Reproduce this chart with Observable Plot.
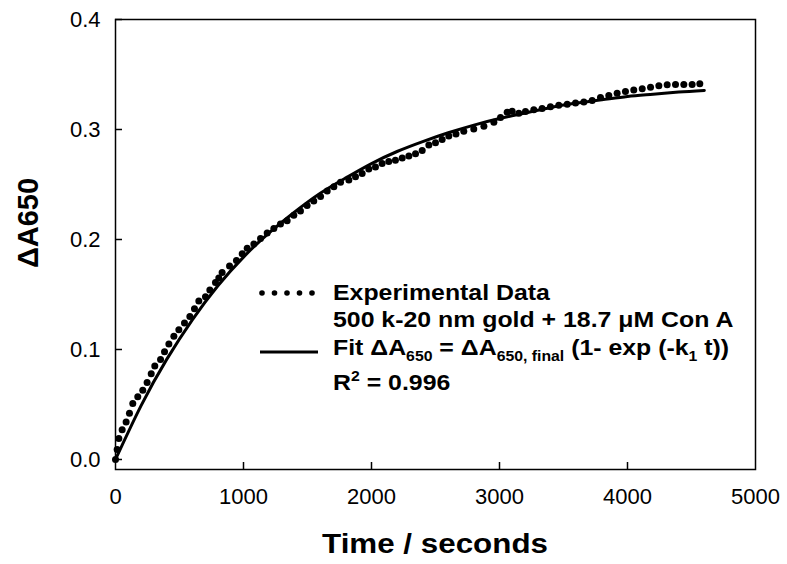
<!DOCTYPE html>
<html><head><meta charset="utf-8">
<script src="https://cdn.jsdelivr.net/npm/d3@7"></script>
<script src="https://cdn.jsdelivr.net/npm/@observablehq/plot@0.6"></script>
<style>
body{margin:0;background:#fff;}
#chart{width:787px;height:564px;}
</style></head><body><div id="chart"></div>
<script>
// Experimental data (time in s, ΔA650)
const time = [0,13,26,52,83,109,135,174,213,247,279,307,352,383,417,456,495,539,581,617,651,703,737,781,807,833,891,945,990,1029,1081,1133,1185,1237,1289,1341,1393,1445,1497,1549,1602,1654,1706,1758,1823,1875,1927,1979,2031,2083,2135,2187,2240,2292,2344,2396,2448,2500,2552,2604,2660,2721,2799,2878,2956,3008,3060,3099,3151,3203,3268,3333,3398,3463,3529,3594,3659,3724,3789,3854,3919,3984,4049,4115,4180,4245,4310,4375,4440,4505,4565];
const deltaA = [0,0.009,0.019,0.027,0.034,0.042,0.051,0.057,0.063,0.070,0.078,0.085,0.091,0.098,0.105,0.112,0.118,0.124,0.130,0.137,0.144,0.148,0.154,0.161,0.165,0.170,0.176,0.181,0.187,0.192,0.196,0.201,0.206,0.210,0.214,0.217,0.222,0.226,0.231,0.235,0.239,0.244,0.248,0.252,0.254,0.257,0.260,0.264,0.266,0.269,0.271,0.272,0.274,0.276,0.278,0.281,0.286,0.288,0.291,0.294,0.296,0.2985,0.3005,0.303,0.3067,0.311,0.3157,0.3166,0.3148,0.3164,0.318,0.319,0.3206,0.322,0.323,0.324,0.325,0.3264,0.329,0.331,0.333,0.3345,0.336,0.337,0.3385,0.3397,0.3406,0.341,0.341,0.341,0.3415];
// Fitted curve
const fitTime = [0,200,400,600,800,1000,1200,1400,1600,1800,2000,2200,2400,2600,2800,3000,3200,3400,3600,3800,4000,4200,4400,4600];
const fitDeltaA = [0,0.049,0.091,0.127,0.158,0.184,0.206,0.225,0.242,0.256,0.269,0.280,0.289,0.297,0.304,0.310,0.315,0.320,0.324,0.327,0.330,0.332,0.334,0.3355];
// Axes
const xTicks = [0,1000,2000,3000,4000,5000];
const xTickLabels = ["0","1000","2000","3000","4000","5000"];
const yTicks = [0,0.1,0.2,0.3,0.4];
const yTickLabels = ["0.0","0.1","0.2","0.3","0.4"];
const xTitle = "Time / seconds";
const yTitle = "ΔA650";

const W = 787, H = 564, mL = 115, mR = 32, mT = 19, mB = 95;
const xDomain = [0, 5000], yDomain = [-0.0091, 0.4];
const pxPerX = (W - mL - mR) / (xDomain[1] - xDomain[0]);
const pxPerY = (H - mT - mB) / (yDomain[1] - yDomain[0]);
const tickLen = 7;
const font = "'Liberation Sans', Arial, Helvetica, sans-serif";

const expData = time.map((t, i) => ({t, v: deltaA[i]}));
const fitData = fitTime.map((t, i) => ({t, v: fitDeltaA[i]}));

const svg = Plot.plot({
  width: W, height: H,
  marginLeft: mL, marginRight: mR, marginTop: mT, marginBottom: mB,
  style: {fontFamily: font, background: "white", color: "black", overflow: "visible"},
  x: {domain: xDomain},
  y: {domain: yDomain},
  marks: [
    Plot.axisX({ticks: xTicks, tickSize: 0, tickPadding: 19, fontSize: 22, label: null,
      tickFormat: d => xTickLabels[xTicks.indexOf(d)]}),
    Plot.axisY({ticks: yTicks, tickSize: 0, tickPadding: 15, fontSize: 22, label: null,
      tickFormat: d => yTickLabels[yTicks.findIndex(v => Math.abs(v - d) < 1e-9)]}),
    Plot.ruleX(xTicks.slice(1, -1), {x: d => d, y1: yDomain[0], y2: yDomain[0] + tickLen / pxPerY, stroke: "black", strokeWidth: 1.5}),
    Plot.ruleY(yTicks, {y: d => d, x1: xDomain[0], x2: xDomain[0] + tickLen / pxPerX, stroke: "black", strokeWidth: 1.5}),
    Plot.line(fitData, {x: "t", y: "v", curve: "natural", stroke: "black", strokeWidth: 3}),
    Plot.dot(expData, {x: "t", y: "v", r: 3.5, fill: "black", stroke: "none"}),
    Plot.frame({stroke: "black", strokeWidth: 1.5})
  ]
});
document.getElementById("chart").appendChild(svg);

const root = d3.select(svg);
// X-axis title
root.append("text")
  .attr("transform", "translate(435,553) scale(1.12,1)")
  .attr("text-anchor", "middle")
  .attr("font-family", font).attr("font-weight", "bold").attr("font-size", 28).attr("fill", "black")
  .text(xTitle);
// Y-axis title
root.append("text")
  .attr("transform", "translate(38,223) rotate(-90)")
  .attr("text-anchor", "middle")
  .attr("font-family", font).attr("font-weight", "bold").attr("font-size", 29).attr("fill", "black")
  .text(yTitle);

// Legend inside the plot
const lg = root.append("g");
const legDotsX = [262, 274.5, 287, 299.5, 312];
lg.selectAll("circle").data(legDotsX).join("circle").attr("cx", d => d).attr("cy", 293).attr("r", 2.8).attr("fill", "black");
lg.append("line").attr("x1", 260).attr("x2", 318).attr("y1", 352).attr("y2", 352).attr("stroke", "black").attr("stroke-width", 3);
const lt = lg.append("g").attr("transform", "translate(333,0) scale(1.13,1)")
  .attr("font-family", font).attr("font-weight", "bold")
  .attr("font-size", 22).attr("fill", "black").attr("text-anchor", "start");
lt.append("text").attr("x", 0).attr("y", 300).text("Experimental Data");
lt.append("text").attr("x", 0).attr("y", 327).text("500 k-20 nm gold + 18.7 μM Con A");
const t3 = lt.append("text").attr("x", 0).attr("y", 355);
const parts3 = [["Fit ΔA", 0], ["650", 1], [" = ΔA", 0], ["650, final", 1], [" (1- exp (-k", 0], ["1", 1], [" t))", 0]];
parts3.forEach(([s, sub], i) => {
  const prevSub = i > 0 ? parts3[i - 1][1] : 0;
  const ts = t3.append("tspan").text(s);
  if (sub) ts.attr("font-size", 14);
  ts.attr("dy", sub && !prevSub ? 6 : (!sub && prevSub ? -6 : 0));
});
const t4 = lt.append("text").attr("x", 0).attr("y", 390);
t4.append("tspan").text("R");
t4.append("tspan").text("2").attr("font-size", 14).attr("dy", -9);
t4.append("tspan").text(" = 0.996").attr("dy", 9);
</script></body></html>
